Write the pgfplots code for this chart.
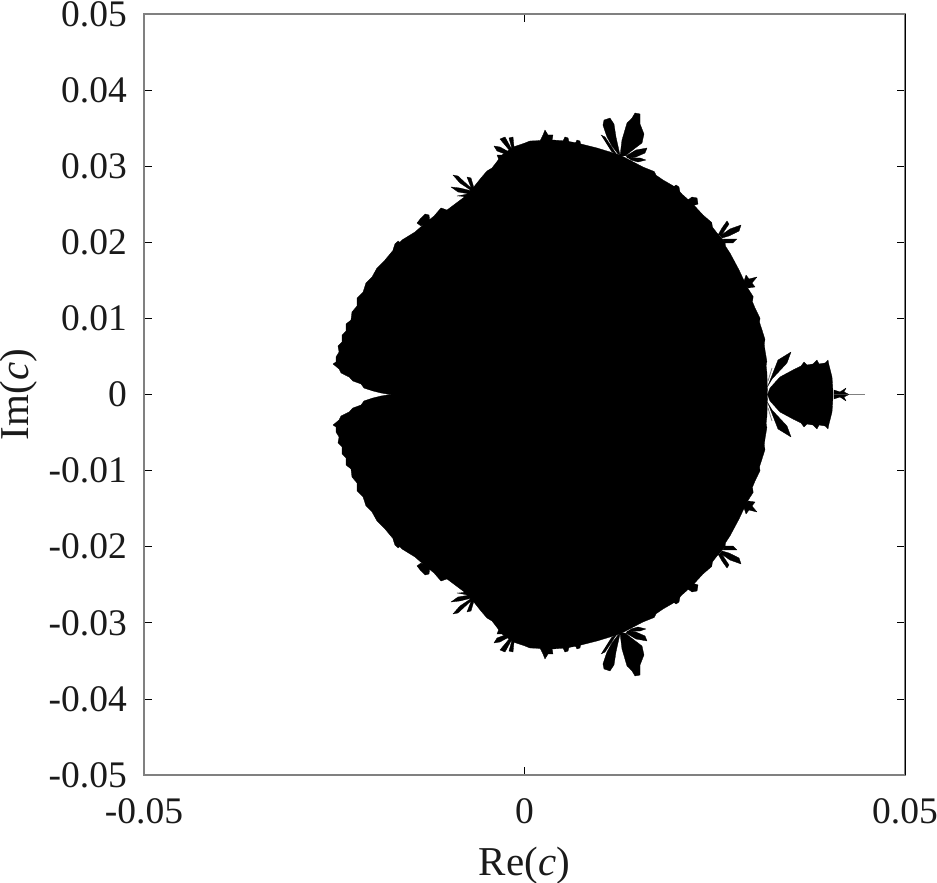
\documentclass[border=0pt]{standalone}
\usepackage{pgfplots}
\usepackage{pgfplotstable}
\usepackage{fontspec}
\setmainfont{Liberation Serif}
\pgfplotsset{compat=1.18}

% upper half of the main body, mirrored below
\pgfplotstableread{
x y
-.01767 0
-.01886 .00020
-.01991 .00046
-.02109 .00085
-.02148 .00138
-.02254 .00177
-.02306 .00230
-.02411 .00283
-.02437 .00335
-.02516 .00401
-.02477 .00427
-.02477 .00493
-.02437 .00558
-.02451 .00637
-.02398 .00690
-.02398 .00782
-.02345 .00834
-.02345 .00926
-.02280 .00979
-.02267 .01084
-.02201 .01163
-.02201 .01268
-.02122 .01347
-.02083 .01465
-.02004 .01544
-.01938 .01662
-.01833 .01767
-.01702 .01925
-.01610 .02030
-.01439 .02135
-.01334 .02227
-.01189 .02345
-.01097 .02451
-.01018 .02424
-.00808 .02582
-.00677 .02713
-.00572 .02845
-.00493 .02937
-.00427 .02976
-.00296 .03147
-.00151 .03252
.00007 .03305
.00072 .03331
.00374 .03344
.00545 .03331
.00690 .03305
.00953 .03239
.01255 .03147
.01557 .02989
.01705 .02930
.01730 .02880
.01820 .02819
.01978 .02727
.02083 .02621
.02201 .02516
.02345 .02359
.02460 .02260
.02470 .02200
.02529 .02122
.02636 .02004
.02640 .01950
.02700 .01859
.02819 .01636
.02924 .01413
.03005 .01286
.02995 .01220
.03029 .01137
.03095 .01002
.03088 .00950
.03121 .00848
.03160 .00725
.03150 .00660
.03160 .00585
.03185 .00436
.03175 .00380
.03186 .00283
.03193 0
}\body

% right bulb, upper half
\pgfplotstableread{
x y
.03193 0
.03226 .00085
.03357 .00230
.03528 .00322
.03633 .00374
.03673 .00427
.03712 .00388
.03791 .00401
.03843 .00453
.03870 .00401
.03949 .00414
.03988 .00453
.04001 .00388
.04041 .00230
.04054 .00033
.04054 0
}\bulb

% leaves and tufts on the boundary, upper half
\pgfplotstableread{
x y
.01255 .03134
.01281 .03344
.01347 .03568
.01413 .03633
.01452 .03699
.01518 .03686
.01518 .03554
.01570 .03423
.01544 .03305
.01439 .03226
.01321 .03134
nan nan
.01255 .03147
.01202 .03384
.01176 .03554
.01123 .03633
.01045 .03607
.01031 .03541
.01084 .03384
.01150 .03265
.01229 .03160
nan nan
.01005 .03410
.01058 .03384
.01215 .03147
.01137 .03200
nan nan
.01334 .03134
.01465 .03213
.01610 .03239
.01583 .03173
.01465 .03121
.01347 .03108
nan nan
.01360 .03108
.01518 .03108
.01596 .03081
.01491 .03055
.01399 .03081
nan nan
-.00690 .02674
-.00848 .02779
-.00940 .02884
-.00874 .02871
-.00703 .02713
nan nan
-.00690 .02687
-.00756 .02858
-.00703 .02845
-.00664 .02713
nan nan
-.00690 .02674
-.00848 .02713
-.00966 .02727
-.00874 .02661
-.00716 .02635
nan nan
-.00887 .02608
-.00742 .02635
-.00769 .02595
nan nan
-.00191 .03200
-.00256 .03278
-.00322 .03357
-.00256 .03384
-.00177 .03239
nan nan
-.00164 .03226
-.00204 .03371
-.00151 .03384
-.00138 .03252
nan nan
-.00204 .03187
-.00322 .03252
-.00401 .03265
-.00361 .03200
-.00256 .03160
nan nan
-.00230 .03147
-.00361 .03147
-.00335 .03081
-.00256 .03108
nan nan
.00204 .03331
.00243 .03410
.00269 .03476
.00309 .03410
.00374 .03410
.00361 .03331
nan nan
.00506 .03331
.00532 .03384
.00572 .03371
.00585 .03318
nan nan
.00664 .03292
.00690 .03344
.00729 .03331
.00742 .03266
nan nan
.02543 .02096
.02595 .02188
.02661 .02280
.02687 .02240
.02582 .02083
nan nan
.02569 .02083
.02700 .02175
.02845 .02227
.02819 .02148
.02687 .02083
.02595 .02056
nan nan
.02608 .02043
.02792 .02043
.02740 .01991
.02635 .01991
nan nan
.02148 .02556
.02201 .02595
.02267 .02582
.02280 .02503
.02201 .02477
nan nan
.02871 .01452
.02911 .01570
.02950 .01518
.03055 .01544
.02989 .01465
.03029 .01413
.02937 .01399
nan nan
.01938 .02713
.01991 .02753
.02030 .02727
.02043 .02661
.01978 .02648
nan nan
-.01360 .02214
-.01413 .02253
-.01360 .02319
-.01307 .02372
-.01255 .02359
-.01242 .02267
nan nan
-.01728 .01899
-.01702 .01978
-.01662 .02017
-.01610 .01978
-.01610 .01925
nan nan
.03193 .00099
.03331 .00453
.03502 .00558
.03449 .00414
.03265 .00217
nan nan
.04067 0
.04067 .00059
.04146 .00033
.04225 .00085
.04198 .00033
.04264 0
}\leaves

\definecolor{txt}{HTML}{1A1A1A}
\definecolor{frame}{HTML}{808080}

\begin{document}
\begin{tikzpicture}
\useasboundingbox (-144pt,-108pt) rectangle (793pt,775pt);
\begin{axis}[
    scale only axis,
    width=761pt,
    height=761pt,
    xmin=-0.05, xmax=0.05,
    ymin=-0.05, ymax=0.05,
    scaled ticks=false,
    xtick={-0.05,0,0.05},
    xticklabels={-0.05,0,0.05},
    ytick={-0.05,-0.04,-0.03,-0.02,-0.01,0,0.01,0.02,0.03,0.04,0.05},
    yticklabels={-0.05,-0.04,-0.03,-0.02,-0.01,0,0.01,0.02,0.03,0.04,0.05},
    tick align=inside,
    major tick length=8pt,
    tick style={black,line width=0.7pt},
    axis line style={frame,line width=1.4pt},
    unbounded coords=jump,
    tick label style={font=\fontsize{37.5}{40}\selectfont,text=txt,inner sep=0pt},
    xticklabel style={anchor=base,yshift=-48pt},
    yticklabel style={anchor=east,xshift=-17pt},
    label style={font=\fontsize{41}{44}\selectfont,text=txt,inner sep=0pt},
    xlabel={Re(\textit{c})},
    ylabel={Im(\textit{c})},
    xlabel style={at={(axis description cs:0.5,0)},anchor=base,yshift=-100pt},
    ylabel style={at={(axis description cs:0,0.5)},anchor=base,yshift=115pt},
    extra description/.code={\draw[black,line width=1pt] (1,0) -- (1,1);},
    mset/.style={fill=black,draw=black,line width=0.3pt,line join=round},
]
\addplot[mset] table[x=x,y=y] {\body} -- cycle;
\addplot[mset] table[x=x,y expr=-\thisrow{y}] {\body} -- cycle;
\addplot[mset] table[x=x,y=y] {\bulb} -- cycle;
\addplot[mset] table[x=x,y expr=-\thisrow{y}] {\bulb} -- cycle;
\addplot[mset] table[x=x,y=y] {\leaves};
\addplot[mset] table[x=x,y expr=-\thisrow{y}] {\leaves};
% covers the seam between the two halves
\addplot[black,line width=1.2pt] coordinates {(-.0176,0) (.0319,0)};
\addplot[black,line width=1.2pt] coordinates {(.0320,0) (.0405,0)};
\addplot[gray,line width=0.6pt] coordinates {(.04264,0) (.04474,0)};
\addplot[gray,line width=0.8pt] coordinates {(.03200,.00177) (.03252,.00348)};
\addplot[gray,line width=0.8pt] coordinates {(.03200,-.00177) (.03252,-.00348)};
\end{axis}
\end{tikzpicture}
\end{document}
